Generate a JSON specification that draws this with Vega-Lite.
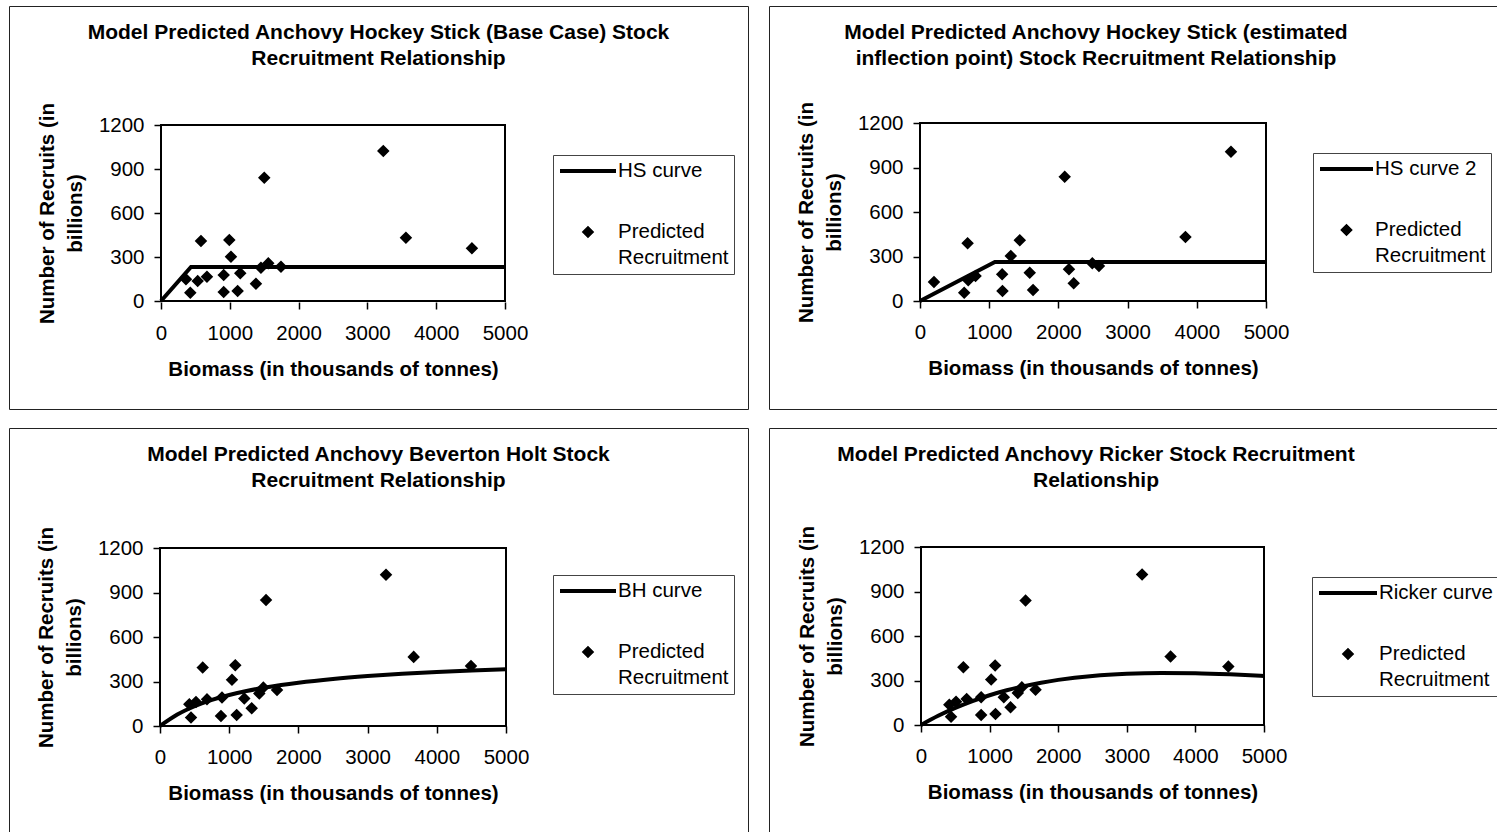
{
  "$schema": "https://vega.github.io/schema/vega-lite/v6.json",
  "padding": {"left": 8, "top": 5, "right": 0, "bottom": 0},
  "background": "white",
  "datasets": {
    "hs1": [{"b": 0, "r": 0}, {"b": 436, "r": 232}, {"b": 5000, "r": 232}],
    "hs2": [{"b": 0, "r": 0}, {"b": 1082, "r": 263}, {"b": 5000, "r": 263}],
    "bh": [{"b": 0, "r": 0}, {"b": 250, "r": 77.3}, {"b": 500, "r": 133.3}, {"b": 750, "r": 175.8}, {"b": 1000, "r": 209.1}, {"b": 1250, "r": 235.9}, {"b": 1500, "r": 257.9}, {"b": 1750, "r": 276.3}, {"b": 2000, "r": 292.0}, {"b": 2500, "r": 317.2}, {"b": 3000, "r": 336.5}, {"b": 3500, "r": 351.8}, {"b": 4000, "r": 364.3}, {"b": 4500, "r": 374.5}, {"b": 5000, "r": 383.2}],
    "ricker": [{"b": 0, "r": 0}, {"b": 250, "r": 61.8}, {"b": 500, "r": 115.3}, {"b": 750, "r": 161.4}, {"b": 1000, "r": 200.7}, {"b": 1250, "r": 234.1}, {"b": 1500, "r": 262.0}, {"b": 1750, "r": 285.2}, {"b": 2000, "r": 304.1}, {"b": 2500, "r": 330.9}, {"b": 3000, "r": 345.5}, {"b": 3500, "r": 350.9}, {"b": 4000, "r": 349.0}, {"b": 4500, "r": 341.6}, {"b": 5000, "r": 330.5}],
    "obs1": [{"b": 426, "r": 57}, {"b": 581, "r": 409}, {"b": 993, "r": 416}, {"b": 1017, "r": 302}, {"b": 1501, "r": 841}, {"b": 3231, "r": 1023}, {"b": 3560, "r": 432}, {"b": 4519, "r": 359}, {"b": 363, "r": 148}, {"b": 533, "r": 136}, {"b": 668, "r": 166}, {"b": 911, "r": 177}, {"b": 911, "r": 61}, {"b": 1114, "r": 68}, {"b": 1152, "r": 189}, {"b": 1380, "r": 118}, {"b": 1453, "r": 227}, {"b": 1559, "r": 257}, {"b": 1744, "r": 234}],
    "obs2": [{"b": 202, "r": 128}, {"b": 639, "r": 56}, {"b": 688, "r": 390}, {"b": 697, "r": 140}, {"b": 803, "r": 169}, {"b": 1187, "r": 180}, {"b": 1192, "r": 68}, {"b": 1312, "r": 304}, {"b": 1442, "r": 410}, {"b": 1586, "r": 191}, {"b": 1634, "r": 74}, {"b": 2091, "r": 837}, {"b": 2153, "r": 214}, {"b": 2221, "r": 119}, {"b": 2490, "r": 254}, {"b": 2586, "r": 236}, {"b": 3836, "r": 432}, {"b": 4494, "r": 1006}],
    "obs3": [{"b": 448, "r": 57}, {"b": 617, "r": 394}, {"b": 1088, "r": 410}, {"b": 1040, "r": 311}, {"b": 1532, "r": 849}, {"b": 3266, "r": 1020}, {"b": 3666, "r": 466}, {"b": 4494, "r": 405}, {"b": 424, "r": 147}, {"b": 520, "r": 162}, {"b": 679, "r": 180}, {"b": 896, "r": 192}, {"b": 881, "r": 68}, {"b": 1108, "r": 74}, {"b": 1218, "r": 185}, {"b": 1325, "r": 120}, {"b": 1435, "r": 219}, {"b": 1493, "r": 259}, {"b": 1691, "r": 243}],
    "obs4": [{"b": 438, "r": 56}, {"b": 618, "r": 390}, {"b": 1081, "r": 401}, {"b": 1023, "r": 306}, {"b": 1524, "r": 839}, {"b": 3223, "r": 1015}, {"b": 3638, "r": 461}, {"b": 4480, "r": 394}, {"b": 413, "r": 137}, {"b": 511, "r": 157}, {"b": 666, "r": 176}, {"b": 877, "r": 187}, {"b": 877, "r": 68}, {"b": 1086, "r": 74}, {"b": 1207, "r": 187}, {"b": 1305, "r": 119}, {"b": 1411, "r": 216}, {"b": 1470, "r": 254}, {"b": 1670, "r": 238}],
    "one": [{"k": 1}]
  },
  "vconcat": [
    {
      "hconcat": [
        {
          "width": 739, "height": 403,
          "title": {"text": ["Model Predicted Anchovy Hockey Stick (Base Case) Stock", "Recruitment Relationship"]},
          "layer": [
            {"data": {"name": "one"}, "mark": {"type": "rect", "fill": null, "stroke": "black", "strokeWidth": 2},
             "encoding": {
               "x": {"datum": 0, "type": "quantitative", "scale": {"domain": [0, 5000], "range": [152, 496], "nice": false, "zero": false},
                     "axis": {"values": [0, 1000, 2000, 3000, 4000, 5000], "offset": -107, "title": "Biomass (in thousands of tonnes)"}},
               "x2": {"datum": 5000},
               "y": {"datum": 0, "type": "quantitative", "scale": {"domain": [0, 1200], "range": [295, 119], "nice": false, "zero": false},
                     "axis": {"values": [0, 300, 600, 900, 1200], "offset": -152, "title": ["Number of Recruits (in", "billions)"]}},
               "y2": {"datum": 1200}
             }},
            {"data": {"name": "hs1"}, "mark": {"type": "line", "color": "black", "strokeWidth": 4},
             "encoding": {"x": {"field": "b", "type": "quantitative"}, "y": {"field": "r", "type": "quantitative"}}},
            {"data": {"name": "obs1"}, "mark": {"type": "point", "filled": true, "fill": "black", "stroke": "black", "strokeWidth": 4, "opacity": 1},
             "encoding": {"x": {"field": "b", "type": "quantitative"}, "y": {"field": "r", "type": "quantitative"},
               "shape": {"datum": "Predicted Recruitment", "type": "nominal", "scale": {"domain": ["HS curve", "Predicted Recruitment"], "range": ["stroke", "diamond"]},
                         "legend": {"title": null, "orient": "none", "legendX": 544, "legendY": 149, "labelExpr": "datum.value === 'Predicted Recruitment' ? ['Predicted', 'Recruitment'] : datum.label"}},
               "size": {"datum": "Predicted Recruitment", "type": "nominal", "scale": {"domain": ["HS curve", "Predicted Recruitment"], "range": [3136, 47]},
                         "legend": {"title": null, "orient": "none", "legendX": 544, "legendY": 149, "labelExpr": "datum.value === 'Predicted Recruitment' ? ['Predicted', 'Recruitment'] : datum.label"}}}}
          ]
        },
        {
          "width": 730, "height": 403,
          "title": {"text": ["Model Predicted Anchovy Hockey Stick (estimated", "inflection point) Stock Recruitment Relationship"], "dx": -38},
          "layer": [
            {"data": {"name": "one"}, "mark": {"type": "rect", "fill": null, "stroke": "black", "strokeWidth": 2},
             "encoding": {
               "x": {"datum": 0, "type": "quantitative", "scale": {"domain": [0, 5000], "range": [151, 497], "nice": false, "zero": false},
                     "axis": {"values": [0, 1000, 2000, 3000, 4000, 5000], "offset": -108, "title": "Biomass (in thousands of tonnes)"}},
               "x2": {"datum": 5000},
               "y": {"datum": 0, "type": "quantitative", "scale": {"domain": [0, 1200], "range": [295, 117], "nice": false, "zero": false},
                     "axis": {"values": [0, 300, 600, 900, 1200], "offset": -151, "title": ["Number of Recruits (in", "billions)"]}},
               "y2": {"datum": 1200}
             }},
            {"data": {"name": "hs2"}, "mark": {"type": "line", "color": "black", "strokeWidth": 4},
             "encoding": {"x": {"field": "b", "type": "quantitative"}, "y": {"field": "r", "type": "quantitative"}}},
            {"data": {"name": "obs2"}, "mark": {"type": "point", "filled": true, "fill": "black", "stroke": "black", "strokeWidth": 4, "opacity": 1},
             "encoding": {"x": {"field": "b", "type": "quantitative"}, "y": {"field": "r", "type": "quantitative"},
               "shape": {"datum": "Predicted Recruitment", "type": "nominal", "scale": {"domain": ["HS curve 2", "Predicted Recruitment"], "range": ["stroke", "diamond"]},
                         "legend": {"title": null, "orient": "none", "legendX": 544, "legendY": 147, "labelExpr": "datum.value === 'Predicted Recruitment' ? ['Predicted', 'Recruitment'] : datum.label"}},
               "size": {"datum": "Predicted Recruitment", "type": "nominal", "scale": {"domain": ["HS curve 2", "Predicted Recruitment"], "range": [2809, 47]},
                         "legend": {"title": null, "orient": "none", "legendX": 544, "legendY": 147, "labelExpr": "datum.value === 'Predicted Recruitment' ? ['Predicted', 'Recruitment'] : datum.label"}}}}
          ]
        }
      ],
      "spacing": 19,
      "resolve": {"scale": {"shape": "independent", "size": "independent"}, "legend": {"shape": "independent", "size": "independent"}}
    },
    {
      "hconcat": [
        {
          "width": 739, "height": 404,
          "title": {"text": ["Model Predicted Anchovy Beverton Holt Stock", "Recruitment Relationship"]},
          "layer": [
            {"data": {"name": "one"}, "mark": {"type": "rect", "fill": null, "stroke": "black", "strokeWidth": 2},
             "encoding": {
               "x": {"datum": 0, "type": "quantitative", "scale": {"domain": [0, 5000], "range": [151, 497], "nice": false, "zero": false},
                     "axis": {"values": [0, 1000, 2000, 3000, 4000, 5000], "offset": -106, "title": "Biomass (in thousands of tonnes)"}},
               "x2": {"datum": 5000},
               "y": {"datum": 0, "type": "quantitative", "scale": {"domain": [0, 1200], "range": [298, 120], "nice": false, "zero": false},
                     "axis": {"values": [0, 300, 600, 900, 1200], "offset": -151, "title": ["Number of Recruits (in", "billions)"]}},
               "y2": {"datum": 1200}
             }},
            {"data": {"name": "bh"}, "mark": {"type": "line", "color": "black", "strokeWidth": 4, "interpolate": "monotone"},
             "encoding": {"x": {"field": "b", "type": "quantitative"}, "y": {"field": "r", "type": "quantitative"}}},
            {"data": {"name": "obs3"}, "mark": {"type": "point", "filled": true, "fill": "black", "stroke": "black", "strokeWidth": 4, "opacity": 1},
             "encoding": {"x": {"field": "b", "type": "quantitative"}, "y": {"field": "r", "type": "quantitative"},
               "shape": {"datum": "Predicted Recruitment", "type": "nominal", "scale": {"domain": ["BH curve", "Predicted Recruitment"], "range": ["stroke", "diamond"]},
                         "legend": {"title": null, "orient": "none", "legendX": 544, "legendY": 147, "labelExpr": "datum.value === 'Predicted Recruitment' ? ['Predicted', 'Recruitment'] : datum.label"}},
               "size": {"datum": "Predicted Recruitment", "type": "nominal", "scale": {"domain": ["BH curve", "Predicted Recruitment"], "range": [3136, 47]},
                         "legend": {"title": null, "orient": "none", "legendX": 544, "legendY": 147, "labelExpr": "datum.value === 'Predicted Recruitment' ? ['Predicted', 'Recruitment'] : datum.label"}}}}
          ]
        },
        {
          "width": 730, "height": 404,
          "title": {"text": ["Model Predicted Anchovy Ricker Stock Recruitment", "Relationship"], "dx": -38},
          "layer": [
            {"data": {"name": "one"}, "mark": {"type": "rect", "fill": null, "stroke": "black", "strokeWidth": 2},
             "encoding": {
               "x": {"datum": 0, "type": "quantitative", "scale": {"domain": [0, 5000], "range": [152, 495], "nice": false, "zero": false},
                     "axis": {"values": [0, 1000, 2000, 3000, 4000, 5000], "offset": -107, "title": "Biomass (in thousands of tonnes)"}},
               "x2": {"datum": 5000},
               "y": {"datum": 0, "type": "quantitative", "scale": {"domain": [0, 1200], "range": [297, 119], "nice": false, "zero": false},
                     "axis": {"values": [0, 300, 600, 900, 1200], "offset": -152, "title": ["Number of Recruits (in", "billions)"]}},
               "y2": {"datum": 1200}
             }},
            {"data": {"name": "ricker"}, "mark": {"type": "line", "color": "black", "strokeWidth": 4, "interpolate": "monotone"},
             "encoding": {"x": {"field": "b", "type": "quantitative"}, "y": {"field": "r", "type": "quantitative"}}},
            {"data": {"name": "obs4"}, "mark": {"type": "point", "filled": true, "fill": "black", "stroke": "black", "strokeWidth": 4, "opacity": 1},
             "encoding": {"x": {"field": "b", "type": "quantitative"}, "y": {"field": "r", "type": "quantitative"},
               "shape": {"datum": "Predicted Recruitment", "type": "nominal", "scale": {"domain": ["Ricker curve", "Predicted Recruitment"], "range": ["stroke", "diamond"]},
                         "legend": {"title": null, "orient": "none", "legendX": 543, "legendY": 149, "labelExpr": "datum.value === 'Predicted Recruitment' ? ['Predicted', 'Recruitment'] : datum.label"}},
               "size": {"datum": "Predicted Recruitment", "type": "nominal", "scale": {"domain": ["Ricker curve", "Predicted Recruitment"], "range": [3364, 47]},
                         "legend": {"title": null, "orient": "none", "legendX": 543, "legendY": 149, "labelExpr": "datum.value === 'Predicted Recruitment' ? ['Predicted', 'Recruitment'] : datum.label"}}}}
          ]
        }
      ],
      "spacing": 19,
      "resolve": {"scale": {"shape": "independent", "size": "independent"}, "legend": {"shape": "independent", "size": "independent"}}
    }
  ],
  "spacing": 17,
  "resolve": {"scale": {"shape": "independent", "size": "independent"}, "legend": {"shape": "independent", "size": "independent"}},
  "config": {
    "font": "Liberation Sans",
    "view": {"stroke": "#222", "strokeWidth": 1},
    "style": {"guide-label": {"lineHeight": 26}},
    "title": {"fontSize": 21, "fontWeight": "bold", "color": "black", "lineHeight": 26, "frame": "group", "anchor": "middle", "baseline": "alphabetic", "offset": -63},
    "axis": {"domain": false, "grid": false, "format": "d", "tickSize": 7, "tickColor": "black", "tickWidth": 1.5, "labelFontSize": 20.5, "labelColor": "black", "labelPadding": 10, "labelFlush": false, "labelOverlap": false, "titleFontSize": 20.5, "titleFontWeight": "bold", "titleColor": "black", "titlePadding": 13, "titleLineHeight": 28},
    "axisX": {"labelPadding": 14, "titlePadding": 16},
    "legend": {"labelFontSize": 20.5, "labelColor": "black", "labelLimit": 400, "labelOffset": 0, "labelBaseline": "middle", "clipHeight": 22, "rowPadding": 39, "padding": 5, "strokeColor": "#444", "fillColor": "white", "symbolStrokeWidth": 4, "symbolOpacity": 1}
  }
}
